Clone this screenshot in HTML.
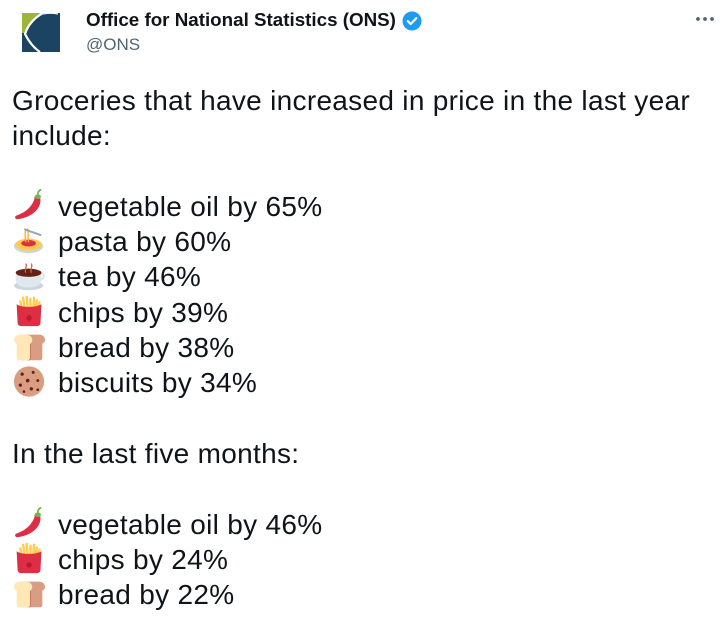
<!DOCTYPE html>
<html><head><meta charset="utf-8">
<style>
html,body{margin:0;padding:0;background:#fff;}
body{width:722px;height:620px;position:relative;overflow:hidden;font-family:"Liberation Sans",Arial,sans-serif;color:#0f1419;}
.name{position:absolute;left:86px;top:8px;font-size:18.8px;font-weight:bold;line-height:24px;white-space:nowrap;}
.handle{position:absolute;left:86px;top:34px;font-size:17px;color:#536471;line-height:22px;}
.body{position:absolute;left:12px;top:83px;font-size:28px;line-height:35.3px;letter-spacing:0.3px;white-space:pre;}
.sp{display:inline-block;width:46px;}
.e{position:absolute;left:13px;width:33px;height:33px;}
</style></head><body>
<svg style="position:absolute;left:22px;top:13px" width="38" height="39" viewBox="0 0 38 39">
<rect x="0" y="0" width="38" height="39" fill="#1b4462"/>
<path d="M0 0 H21 C12 5 6 11 3 20 L0 20 Z" fill="#9cb63b"/>
<path d="M21 0 C12 5 6 12 3 21 C7 29 12 35 18 39" stroke="#fff" stroke-width="2.2" fill="none"/>
<path d="M21 1 C26 0 31 0 36 1" stroke="#fff" stroke-width="1.2" fill="none"/>
</svg>
<div class="name">Office for National Statistics (ONS)</div>
<svg style="position:absolute;left:402px;top:11px" width="20" height="20" viewBox="0 0 20 20">
<circle cx="10" cy="10" r="9.5" fill="#1d9bf0"/>
<path d="M5.8 10.2 L8.7 13 L14.3 7.2" stroke="#fff" stroke-width="2.2" fill="none" stroke-linecap="round" stroke-linejoin="round"/>
</svg>
<div class="handle">@ONS</div>
<svg style="position:absolute;left:694px;top:15px" width="24" height="8" viewBox="0 0 24 8">
<circle cx="4" cy="4" r="1.9" fill="#536471"/><circle cx="11" cy="4" r="1.9" fill="#536471"/><circle cx="18" cy="4" r="1.9" fill="#536471"/>
</svg>

<div class="body">Groceries that have increased in price in the last year
include:

<span class="sp"></span>vegetable oil by 65%
<span class="sp"></span>pasta by 60%
<span class="sp"></span>tea by 46%
<span class="sp"></span>chips by 39%
<span class="sp"></span>bread by 38%
<span class="sp"></span>biscuits by 34%

In the last five months:

<span class="sp"></span>vegetable oil by 46%
<span class="sp"></span>chips by 24%
<span class="sp"></span>bread by 22%</div>

<svg width="0" height="0" style="position:absolute">
<defs>
<g id="chili">
<path d="M29 9 C33 19 24 31 6 34 C2 34.5 1 31 4 30 C16 26 22 18 24 10 Z" fill="#dd2e44"/>
<path d="M23 11 C24 7 27 6 30 8 C31 10 30 12 28 12 Z" fill="#77b255"/>
<path d="M27 8 C27 5 28 3 30 2" stroke="#77b255" stroke-width="2" fill="none" stroke-linecap="round"/>
</g>
<g id="pasta">
<ellipse cx="17" cy="24" rx="16" ry="8" fill="#ccd6dd"/>
<ellipse cx="17" cy="22.5" rx="14" ry="6.5" fill="#ffcc4d"/>
<ellipse cx="17" cy="21" rx="8" ry="3.5" fill="#dd2e44"/>
<path d="M14 20 C13 14 13 9 14 5 M17 20 C16 14 17 9 16 5" stroke="#ffac33" stroke-width="1.5" fill="none"/>
<path d="M13 6 L30 12" stroke="#99aab5" stroke-width="2.2" stroke-linecap="round"/>
</g>
<g id="tea">
<ellipse cx="17" cy="29" rx="16" ry="5" fill="#ccd6dd"/>
<path d="M3 15 H31 V22 C31 29 25 31 17 31 C9 31 3 29 3 22 Z" fill="#e1e8ed"/>
<path d="M30 15 C35 15 35 22 30 22" stroke="#e1e8ed" stroke-width="2.5" fill="none"/>
<ellipse cx="17" cy="15" rx="14" ry="4.5" fill="#662113"/>
<path d="M14 15 C12 11 16 9 14 5 M20 15 C18 11 22 9 20 5" stroke="#c1694f" stroke-width="1.4" fill="none"/>
</g>
<g id="chips">
<path d="M11 3 L13 16 M15 2 L16 15 M19 4 L19 16 M23 3 L22 16 M26 6 L24 16 M8 7 L10 16 M29 8 L26 16" stroke="#ffcc4d" stroke-width="2.6" stroke-linecap="round"/>
<path d="M4 10 C8 14 26 14 31 10 L30 30 C30 33 28 34 25 34 H10 C7 34 5 33 5 30 Z" fill="#dd2e44"/>
<circle cx="17.5" cy="25" r="3" fill="#be1931"/>
</g>
<g id="bread">
<path d="M9 5 H28 C33 5 35 8 35 11 C35 13 33 14 32 15 V31 C32 32 31 33 30 33 H9 Z" fill="#d99e82"/>
<path d="M8 5 C2 5 1 9 1 11 C1 13 3 14 4 15 V31 C4 32 5 33 6 33 H17 C18 33 19 32 19 31 V15 C20 14 21 13 21 11 C21 8 19 5 14 5 Z" fill="#ffe8b6"/>
<path d="M19 15 V31 C19 32 18 33 17 33" stroke="#c1694f" stroke-width="0.8" fill="none"/>
</g>
<g id="cookie">
<circle cx="17.5" cy="18" r="16.5" fill="#d99e82"/>
<circle cx="10" cy="10" r="1.8" fill="#662113"/><circle cx="22" cy="8" r="1.6" fill="#662113"/>
<circle cx="16" cy="17" r="2" fill="#662113"/><circle cx="27" cy="17" r="1.6" fill="#662113"/>
<circle cx="8" cy="22" r="1.8" fill="#662113"/><circle cx="20" cy="26" r="1.8" fill="#662113"/>
<circle cx="12" cy="29" r="1.4" fill="#662113"/><circle cx="27" cy="27" r="1.5" fill="#662113"/>
</g>
</defs>
</svg>

<svg class="e" style="top:188px" viewBox="0 0 36 36"><use href="#chili"/></svg>
<svg class="e" style="top:224px" viewBox="0 0 36 36"><use href="#pasta"/></svg>
<svg class="e" style="top:259px" viewBox="0 0 36 36"><use href="#tea"/></svg>
<svg class="e" style="top:295px" viewBox="0 0 36 36"><use href="#chips"/></svg>
<svg class="e" style="top:330px" viewBox="0 0 36 36"><use href="#bread"/></svg>
<svg class="e" style="top:365px" viewBox="0 0 36 36"><use href="#cookie"/></svg>

<svg class="e" style="top:506px" viewBox="0 0 36 36"><use href="#chili"/></svg>
<svg class="e" style="top:542px" viewBox="0 0 36 36"><use href="#chips"/></svg>
<svg class="e" style="top:577px" viewBox="0 0 36 36"><use href="#bread"/></svg>
</body></html>
